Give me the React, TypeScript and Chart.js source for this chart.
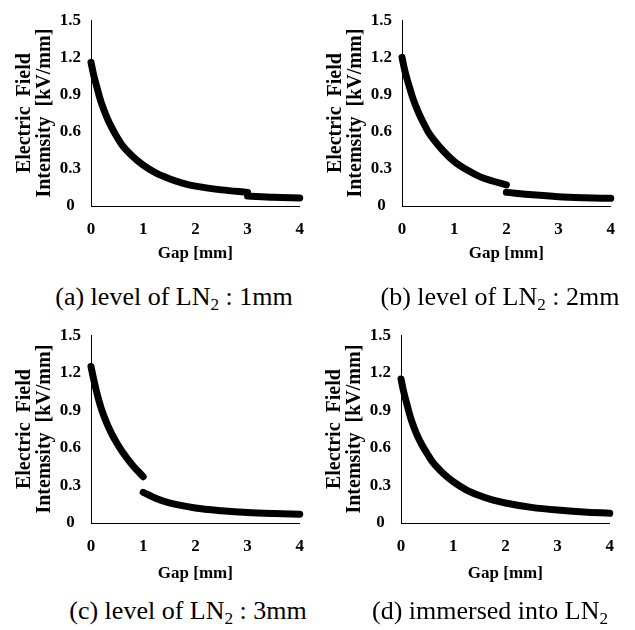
import React, { useEffect, useRef } from "react";
import { Chart, registerables } from "chart.js";

Chart.register(...registerables);

const FONT = "'Liberation Serif', 'Times New Roman', serif";

const yTickValues = [0, 0.3, 0.6, 0.9, 1.2, 1.5];
const yTickLabels = ["0", "0.3", "0.6", "0.9", "1.2", "1.5"];
const xTickValues = [0, 1, 2, 3, 4];
const xTickLabels = ["0", "1", "2", "3", "4"];

const xTitle = "Gap [mm]";
const yTitle = ["Electric  Field", "Intemsity  [kV/mm]"];

// (a) level of LN2 : 1mm
const gapA1 = [0, 0.05, 0.1, 0.15, 0.2, 0.3, 0.4, 0.5, 0.6, 0.8, 1.0, 1.25, 1.5, 1.75, 2.0, 2.5, 3.0];
const fieldA1 = [1.16, 1.06, 0.98, 0.9, 0.83, 0.72, 0.63, 0.555, 0.49, 0.4, 0.33, 0.265, 0.22, 0.185, 0.16, 0.13, 0.11];
const gapA2 = [3.0, 3.5, 4.0];
const fieldA2 = [0.08, 0.07, 0.065];

// (b) level of LN2 : 2mm
const gapB1 = [0, 0.05, 0.1, 0.15, 0.2, 0.3, 0.4, 0.5, 0.6, 0.8, 1.0, 1.25, 1.5, 1.75, 2.0];
const fieldB1 = [1.2, 1.1, 1.02, 0.95, 0.88, 0.77, 0.68, 0.6, 0.54, 0.44, 0.36, 0.29, 0.235, 0.2, 0.17];
const gapB2 = [2.0, 2.5, 3.0, 3.5, 4.0];
const fieldB2 = [0.11, 0.09, 0.075, 0.067, 0.062];

// (c) level of LN2 : 3mm
const gapC1 = [0, 0.05, 0.1, 0.15, 0.2, 0.3, 0.4, 0.5, 0.6, 0.8, 1.0];
const fieldC1 = [1.25, 1.15, 1.06, 0.98, 0.91, 0.8, 0.71, 0.635, 0.57, 0.46, 0.37];
const gapC2 = [1.0, 1.25, 1.5, 2.0, 2.5, 3.0, 3.5, 4.0];
const fieldC2 = [0.245, 0.195, 0.16, 0.12, 0.098, 0.083, 0.075, 0.07];

// (d) immersed into LN2
const gapD = [0, 0.05, 0.1, 0.15, 0.2, 0.3, 0.4, 0.5, 0.6, 0.8, 1.0, 1.25, 1.5, 1.75, 2.0, 2.5, 3.0, 3.5, 4.0];
const fieldD = [1.15, 1.05, 0.97, 0.89, 0.82, 0.71, 0.625, 0.555, 0.49, 0.4, 0.33, 0.265, 0.22, 0.185, 0.16, 0.125, 0.103, 0.088, 0.078];

type Segment = { gap: number[]; field: number[] };

type PanelProps = {
  left: number;
  top: number;
  padTop: number;
  areaBottom: number;
  titlePad: number;
  segments: Segment[];
};

const CW = 317;
const CH = 270;

function Panel({ left, top, padTop, areaBottom, titlePad, segments }: PanelProps) {
  const ref = useRef<HTMLCanvasElement | null>(null);

  useEffect(() => {
    if (!ref.current) return;
    const tickFont = { family: FONT, size: 17, weight: "bold" as const };
    const chart = new Chart(ref.current, {
      type: "line",
      data: {
        datasets: segments.map((s) => ({
          data: s.gap.map((g, i) => ({ x: g, y: s.field[i] })),
          borderColor: "#000",
          backgroundColor: "#000",
          borderWidth: 7,
          pointRadius: 0,
          cubicInterpolationMode: "monotone" as const,
          borderCapStyle: "round" as const,
          borderJoinStyle: "round" as const,
          fill: false,
          clip: false as any,
        })),
      },
      options: {
        responsive: false,
        animation: false,
        events: [],
        layout: { padding: { top: padTop, right: 11, left: 0, bottom: 0 } },
        plugins: {
          legend: { display: false },
          tooltip: { enabled: false },
        },
        scales: {
          x: {
            type: "linear",
            min: 0,
            max: 4,
            grid: { display: false, drawTicks: false },
            border: { display: true, color: "#000", width: 1 },
            ticks: {
              color: "#000",
              font: tickFont,
              padding: 13,
              autoSkip: false,
              maxRotation: 0,
              callback: (_v: any, i: number) => xTickLabels[i],
            },
            afterBuildTicks: (s: any) => {
              s.ticks = xTickValues.map((v) => ({ value: v }));
            },
            afterFit: (s: any) => {
              s.height = CH - areaBottom;
            },
            title: {
              display: true,
              text: xTitle,
              color: "#000",
              font: tickFont,
              padding: { top: 0, bottom: titlePad },
            },
          },
          y: {
            type: "linear",
            min: 0,
            max: 1.5,
            grid: { display: false, drawTicks: false },
            border: { display: true, color: "#000", width: 1 },
            ticks: {
              color: "#000",
              font: tickFont,
              padding: 10,
              crossAlign: "center",
              autoSkip: false,
              callback: (_v: any, i: number) => yTickLabels[i],
            },
            afterBuildTicks: (s: any) => {
              s.ticks = yTickValues.map((v) => ({ value: v }));
            },
            afterFit: (s: any) => {
              s.width = 91;
            },
            title: {
              display: true,
              text: yTitle,
              color: "#000",
              font: { family: FONT, size: 20, weight: "bold", lineHeight: 1.0 },
              padding: { top: 15, bottom: 0 },
            },
          },
        },
      },
    } as any);
    return () => chart.destroy();
  }, []);

  return (
    <canvas
      ref={ref}
      width={CW}
      height={CH}
      style={{ position: "absolute", left, top, width: CW, height: CH }}
    />
  );
}

function Caption({ cx, cy, children }: { cx: number; cy: number; children: React.ReactNode }) {
  return (
    <div
      style={{
        position: "absolute",
        left: cx - 160,
        top: cy - 16,
        width: 320,
        height: 32,
        lineHeight: "32px",
        textAlign: "center",
        fontFamily: FONT,
        fontSize: 26,
        color: "#000",
        whiteSpace: "nowrap",
      }}
    >
      {children}
    </div>
  );
}

const Sub = ({ t }: { t: string }) => (
  <span style={{ fontSize: "0.66em", verticalAlign: "-0.3em", lineHeight: 0 }}>{t}</span>
);

export default function App() {
  return (
    <div
      style={{
        position: "absolute",
        left: 0,
        top: 0,
        width: 635,
        height: 630,
        background: "#fff",
        overflow: "hidden",
      }}
    >
      <Panel left={0} top={0} padTop={20} areaBottom={206} titlePad={6}
        segments={[{ gap: gapA1, field: fieldA1 }, { gap: gapA2, field: fieldA2 }]} />
      <Panel left={311} top={0} padTop={20} areaBottom={206} titlePad={6}
        segments={[{ gap: gapB1, field: fieldB1 }, { gap: gapB2, field: fieldB2 }]} />
      <Panel left={0} top={315} padTop={19} areaBottom={208} titlePad={1}
        segments={[{ gap: gapC1, field: fieldC1 }, { gap: gapC2, field: fieldC2 }]} />
      <Panel left={310} top={315} padTop={19} areaBottom={208} titlePad={1}
        segments={[{ gap: gapD, field: fieldD }]} />

      <Caption cx={174} cy={297}>(a) level of LN<Sub t="2" /> : 1mm</Caption>
      <Caption cx={500} cy={297}>(b) level of LN<Sub t="2" /> : 2mm</Caption>
      <Caption cx={188} cy={611}>(c) level of LN<Sub t="2" /> : 3mm</Caption>
      <Caption cx={490} cy={611}>(d) immersed into LN<Sub t="2" /></Caption>
    </div>
  );
}
